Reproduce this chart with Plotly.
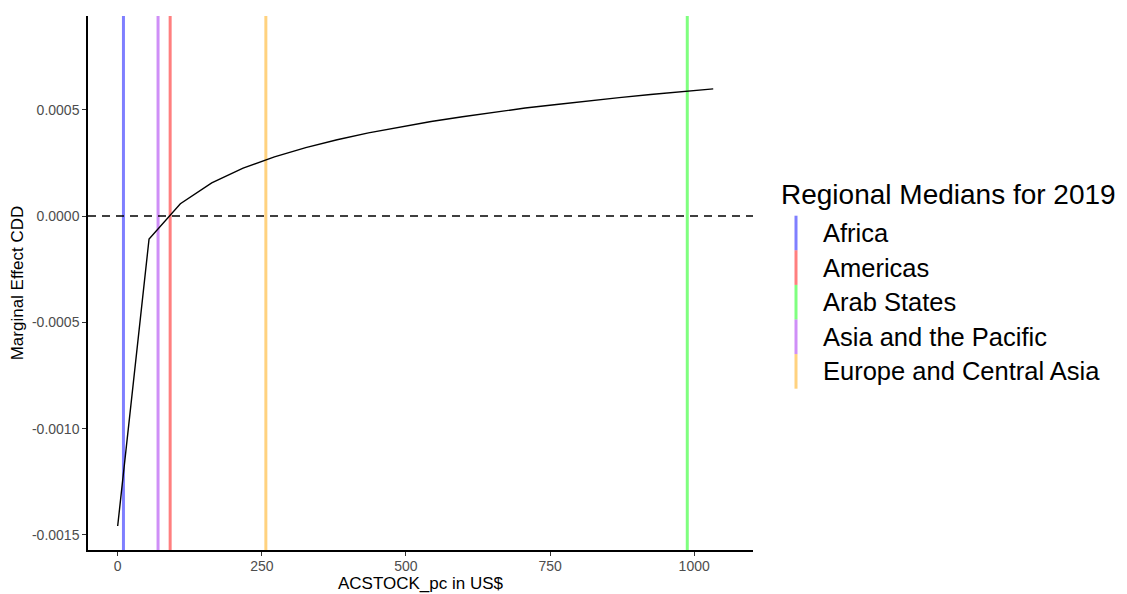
import plotly.graph_objects as go

# Marginal effect of CDD across the AC stock per capita grid
acstock_pc = [0, 54.4, 108.7, 163.1, 217.5, 271.9, 326.2, 380.6, 435.0, 489.3,
              543.7, 598.0, 652.4, 706.8, 761.2, 815.5, 869.9, 924.3, 978.6, 1033.0]
marginal_effect = [-0.001458, -0.000108, 0.000058, 0.000156, 0.000225, 0.000278,
                   0.000322, 0.000359, 0.000391, 0.000419, 0.000445, 0.000467,
                   0.000488, 0.000508, 0.000525, 0.000542, 0.000557, 0.000572,
                   0.000586, 0.000598]

# Regional medians of ACSTOCK_pc in 2019
regions = ["Africa", "Americas", "Arab States", "Asia and the Pacific",
           "Europe and Central Asia"]
region_medians = [10, 91, 988, 70, 257]
region_colors = ["rgba(0,0,255,0.5)", "rgba(255,0,0,0.5)", "rgba(0,255,0,0.5)",
                 "rgba(160,32,240,0.5)", "rgba(255,165,0,0.5)"]

x_ticks = [0, 250, 500, 750, 1000]
y_ticks = [-0.0015, -0.0010, -0.0005, 0.0, 0.0005]
y_tick_labels = ["-0.0015", "-0.0010", "-0.0005", "0.0000", "0.0005"]

W, H = 1127, 594
M_L, M_R, M_T, M_B = 88, 374, 16, 44
plot_w = W - M_L - M_R
plot_h = H - M_T - M_B

fig = go.Figure()

fig.add_trace(go.Scatter(
    x=acstock_pc, y=marginal_effect, mode="lines",
    line=dict(color="black", width=1.4), showlegend=False, hoverinfo="x+y",
))

shapes = []
# zero reference line
shapes.append(dict(type="line", xref="paper", yref="y", x0=0, x1=1, y0=0, y1=0,
                   line=dict(color="black", width=1.4, dash="8px,6px"), layer="above"))
# regional median lines
for med, col in zip(region_medians, region_colors):
    shapes.append(dict(type="line", xref="x", yref="paper", x0=med, x1=med, y0=0, y1=1,
                       line=dict(color=col, width=3), layer="below"))

# legend drawn beside the panel
def px_to_paper_x(px):
    return (px - M_L) / plot_w

def px_to_paper_y(py):
    return (H - M_B - py) / plot_h

annotations = []
annotations.append(dict(
    text="Regional Medians for 2019", xref="paper", yref="paper",
    x=px_to_paper_x(779), y=px_to_paper_y(194), xanchor="left", yanchor="middle",
    showarrow=False, font=dict(size=28, color="black"),
))
item_h = 34.6
first_center = 233
for i, (name, col) in enumerate(zip(regions, region_colors)):
    cy = first_center + i * item_h
    shapes.append(dict(type="line", xref="paper", yref="paper",
                       x0=px_to_paper_x(796), x1=px_to_paper_x(796),
                       y0=px_to_paper_y(cy - item_h / 2), y1=px_to_paper_y(cy + item_h / 2),
                       line=dict(color=col, width=3)))
    annotations.append(dict(
        text=name, xref="paper", yref="paper",
        x=px_to_paper_x(821), y=px_to_paper_y(cy), xanchor="left", yanchor="middle",
        showarrow=False, font=dict(size=25.5, color="black"),
    ))

fig.update_layout(
    width=W, height=H,
    margin=dict(l=M_L, r=M_R, t=M_T, b=M_B, pad=0, autoexpand=False),
    paper_bgcolor="white", plot_bgcolor="white",
    font=dict(family="Liberation Sans, Arial, sans-serif", color="black"),
    showlegend=False,
    shapes=shapes, annotations=annotations,
    xaxis=dict(
        range=[-51.5, 1102], tickvals=x_ticks, showgrid=False, zeroline=False,
        showline=True, linecolor="black", linewidth=1.5, automargin=False,
        ticks="outside", ticklen=4, tickwidth=1.2, tickcolor="#333333",
        ticklabelstandoff=-2,
        tickfont=dict(size=14, color="#4D4D4D"),
        title=dict(text="ACSTOCK_pc in US$", font=dict(size=17, color="black"), standoff=4),
    ),
    yaxis=dict(
        range=[-0.001571, 0.000941], tickvals=y_ticks, ticktext=y_tick_labels,
        showgrid=False, zeroline=False, automargin=False,
        showline=True, linecolor="black", linewidth=1.5,
        ticks="outside", ticklen=4, tickwidth=1.2, tickcolor="#333333",
        tickfont=dict(size=14, color="#4D4D4D"),
        title=dict(text="Marginal Effect CDD", font=dict(size=17, color="black"), standoff=4),
    ),
)

fig.write_html("out.html")
